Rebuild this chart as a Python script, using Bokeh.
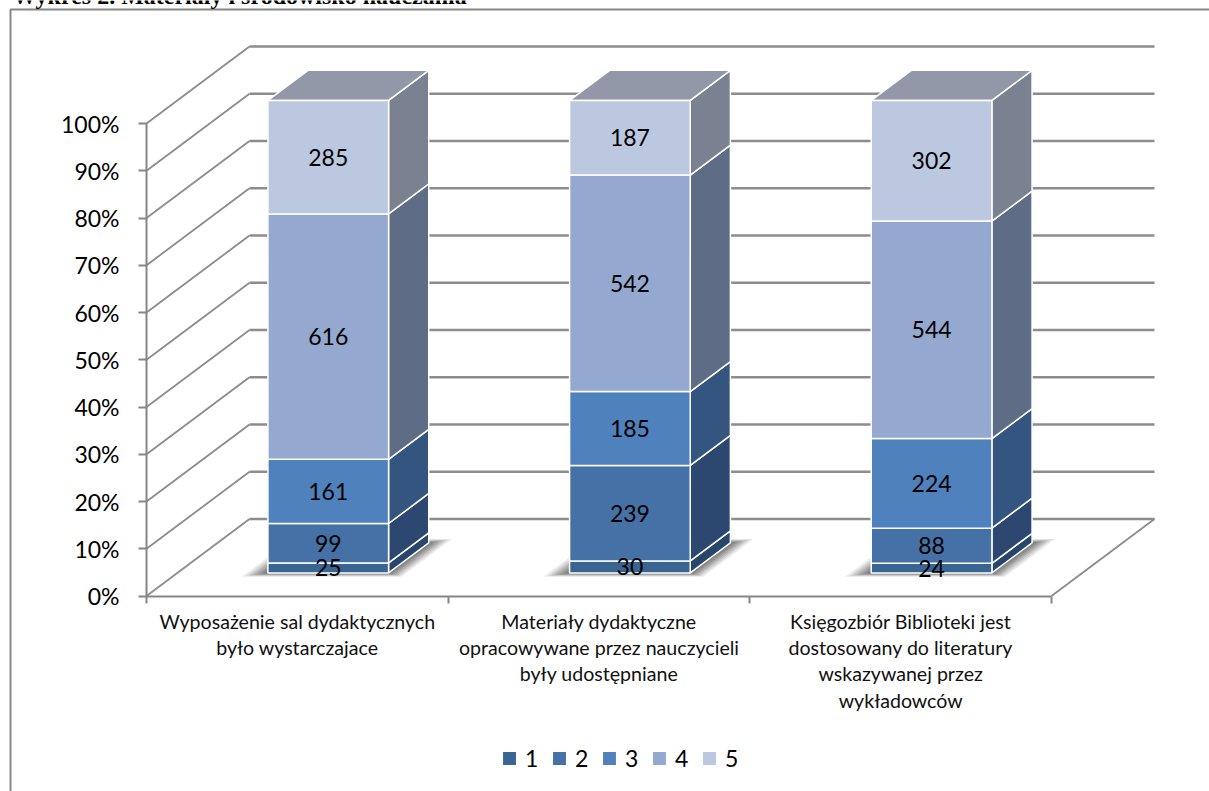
from bokeh.plotting import figure
from bokeh.embed import file_html
from bokeh.resources import INLINE
from bokeh.models import (Range1d, LinearAxis, FixedTicker, Label, BoxAnnotation,
                          Legend, LegendItem)
from bokeh.core.properties import value

# ---- data ----
categories = [
    "Wyposażenie sal dydaktycznych\nbyło wystarczajace",
    "Materiały dydaktyczne\nopracowywane przez nauczycieli\nbyły udostępniane",
    "Księgozbiór Biblioteki jest\ndostosowany do literatury\nwskazywanej przez\nwykładowców",
]
series_names = ["1", "2", "3", "4", "5"]
s1 = [25, 30, 24]
s2 = [99, 239, 88]
s3 = [161, 185, 224]
s4 = [616, 542, 544]
s5 = [285, 187, 302]
y_ticks = [0, 10, 20, 30, 40, 50, 60, 70, 80, 90, 100]
y_tick_labels = ["0%", "10%", "20%", "30%", "40%", "50%", "60%", "70%", "80%", "90%", "100%"]
title_text = "Wykres 2. Materiały i środowisko nauczania"

front_colors = ["#3A6491", "#4571A6", "#4F81BD", "#95A9D0", "#BCC8E0"]
side_colors = ["#28466B", "#2C4870", "#335580", "#5E6C85", "#7A8191"]
top_color = "#9298A8"
GRID = "#8C8C8C"
FONT = "Lato"

# ---- geometry of the page and of the oblique projection ----
W, H = 1209, 791
X0, X3 = 146.0, 1051.0     # pixels of category positions 0 and 3
Y0, Y100 = 595.5, 123.0    # pixels of 0 % and 100 %
PX_PER_CAT = (X3 - X0) / 3
PX_PER_PCT = (Y0 - Y100) / 100
DX = 103.0 / PX_PER_CAT    # full depth shift in category units
DY = 77.0 / PX_PER_PCT     # full depth shift in percent units
BAR_W = 0.40
D_FRONT, D_BACK = 0.30, 0.69


def ux(px):
    return (px - X0) / PX_PER_CAT


def uy(py):
    return (Y0 - py) / PX_PER_PCT


p = figure(
    width=W, height=H, output_backend="svg", toolbar_location=None,
    x_range=Range1d(ux(0), ux(W)), y_range=Range1d(uy(H), uy(0)),
    min_border_left=0, min_border_right=0, min_border_top=0, min_border_bottom=0,
    x_axis_type=None, y_axis_type=None, margin=0,
)
p.grid.visible = False
p.outline_line_color = None
p.background_fill_color = "white"
p.border_fill_color = "white"

# axes, pinned at the chart's origin inside the full-page frame
yaxis = LinearAxis(
    fixed_location=0,
    ticker=FixedTicker(ticks=y_ticks), bounds=(0, 100),
    major_label_overrides={t: l for t, l in zip(y_ticks, y_tick_labels)},
    axis_line_color="#868686", axis_line_width=2,
    major_tick_line_color="#868686", major_tick_line_width=2,
    major_tick_out=8, major_tick_in=0, minor_tick_line_color=None,
    major_label_text_font=FONT, major_label_text_font_size="23px",
    major_label_text_color="#000000", major_label_standoff=19,
)
p.add_layout(yaxis, "left")

cat_pos = [i + 0.5 for i in range(len(categories))]
xaxis = LinearAxis(
    fixed_location=0,
    ticker=FixedTicker(ticks=cat_pos, minor_ticks=[0, 1, 2, 3]), bounds=(0, 3),
    major_label_overrides={c: l for c, l in zip(cat_pos, categories)},
    axis_line_color="#868686", axis_line_width=2,
    major_tick_line_color=None, major_tick_out=0, major_tick_in=0,
    minor_tick_line_color="#868686", minor_tick_line_width=2,
    minor_tick_out=7, minor_tick_in=0,
    major_label_text_font=FONT, major_label_text_font_size="19.6px",
    major_label_text_color="#111111", major_label_standoff=7,
    major_label_text_line_height=1.14,
)
p.add_layout(xaxis, "below")

# chart border and title
p.add_layout(BoxAnnotation(left=ux(10), right=ux(W + 50), top=uy(9), bottom=uy(H + 50),
                           fill_alpha=0, line_color="#868686", line_alpha=1, line_width=2))
p.add_layout(Label(x=ux(12), y=uy(-5), text=title_text, text_font="Liberation Serif",
                   text_font_style="bold", text_font_size="24px", text_color="black",
                   text_baseline="alphabetic"))

# back wall, left wall, floor
for t in y_ticks:
    p.line([0, DX], [t, t + DY], line_color=GRID, line_width=1.8)
    p.line([DX, 3 + DX], [t + DY, t + DY], line_color=GRID, line_width=2.4)
p.line([3, 3 + DX], [0, DY], line_color=GRID, line_width=1.8)

# floor shadows
for c in cat_pos:
    for ext, alpha in [(1.0, 0.10), (0.85, 0.12), (0.7, 0.14), (0.55, 0.16), (0.4, 0.18),
                       (0.25, 0.20), (0.1, 0.22)]:
        l = c - BAR_W / 2 - 0.07 * ext
        r = c + BAR_W / 2 + 0.06 * ext
        df = D_FRONT - 0.05 * ext
        db = D_BACK + 0.05 * ext
        xs = [l + df * DX, r + df * DX, r + db * DX, l + db * DX]
        ys = [df * DY, df * DY, db * DY, db * DY]
        p.patch(xs, ys, fill_color="#404040", fill_alpha=alpha, line_color=None)

# stacked bars as oblique boxes
series = [s1, s2, s3, s4, s5]
totals = [sum(s[i] for s in series) for i in range(len(categories))]
base = [0.0] * len(categories)
legend_items = []
label_x, label_y, label_t = [], [], []
for k, s in enumerate(series):
    pct = [v / t * 100 for v, t in zip(s, totals)]
    left = [c - BAR_W / 2 + D_FRONT * DX for c in cat_pos]
    right = [c + BAR_W / 2 + D_FRONT * DX for c in cat_pos]
    bottom = [b + D_FRONT * DY for b in base]
    top = [b + q + D_FRONT * DY for b, q in zip(base, pct)]
    ddx, ddy = (D_BACK - D_FRONT) * DX, (D_BACK - D_FRONT) * DY
    p.patches(
        [[r, r + ddx, r + ddx, r] for r in right],
        [[b, b + ddy, t + ddy, t] for b, t in zip(bottom, top)],
        fill_color=side_colors[k], line_color="white", line_width=1.5,
    )
    if k == len(series) - 1:
        p.patches(
            [[l, l + ddx, r + ddx, r] for l, r in zip(left, right)],
            [[t, t + ddy, t + ddy, t] for t in top],
            fill_color=top_color, line_color="white", line_width=1.5,
        )
    rend = p.quad(left=left, right=right, bottom=bottom, top=top,
                  fill_color=front_colors[k], line_color="white", line_width=1.5)
    legend_items.append((series_names[k], rend))
    for i, v in enumerate(s):
        label_x.append((left[i] + right[i]) / 2)
        label_y.append((bottom[i] + top[i]) / 2)
        label_t.append(str(v))
    base = [b + q for b, q in zip(base, pct)]

p.text(label_x, label_y, text=label_t, text_align="center", text_baseline="middle",
       text_font=value(FONT), text_font_size="23px", text_color="black")

legend = Legend(
    items=[LegendItem(label=n, renderers=[r]) for n, r in legend_items],
    orientation="horizontal", location=(500, 19), border_line_color=None,
    background_fill_alpha=0, glyph_width=18, glyph_height=18,
    label_text_font=FONT, label_text_font_size="23px", label_text_color="black",
    label_standoff=7, spacing=5, margin=0, padding=0,
)
p.add_layout(legend, "center")

open("out.html", "w").write(file_html(p, INLINE))
